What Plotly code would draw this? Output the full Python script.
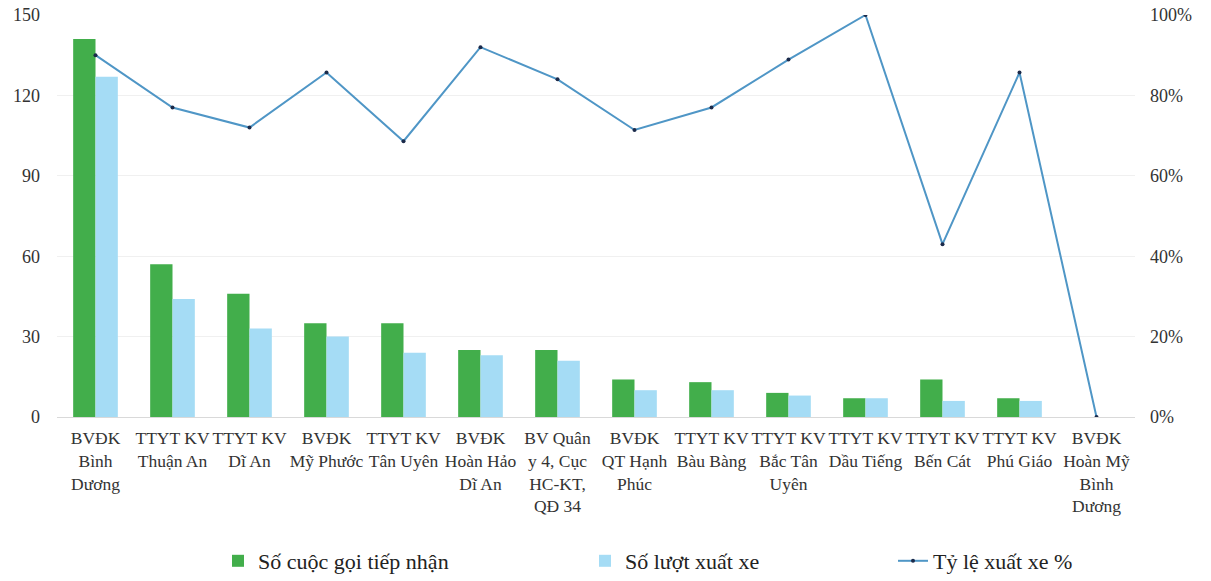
import plotly.graph_objects as go

categories = [
    "BVĐK<br>Bình<br>Dương",
    "TTYT KV<br>Thuận An",
    "TTYT KV<br>Dĩ An",
    "BVĐK<br>Mỹ Phước",
    "TTYT KV<br>Tân Uyên",
    "BVĐK<br>Hoàn Hảo<br>Dĩ An",
    "BV Quân<br>y 4, Cục<br>HC-KT,<br>QĐ 34",
    "BVĐK<br>QT Hạnh<br>Phúc",
    "TTYT KV<br>Bàu Bàng",
    "TTYT KV<br>Bắc Tân<br>Uyên",
    "TTYT KV<br>Dầu Tiếng",
    "TTYT KV<br>Bến Cát",
    "TTYT KV<br>Phú Giáo",
    "BVĐK<br>Hoàn Mỹ<br>Bình<br>Dương",
]
calls_received = [141, 57, 46, 35, 35, 25, 25, 14, 13, 9, 7, 14, 7, 0]
dispatches = [127, 44, 33, 30, 24, 23, 21, 10, 10, 8, 7, 6, 6, 0]
dispatch_rate = [0.90, 0.77, 0.72, 0.857, 0.686, 0.92, 0.84, 0.714, 0.77, 0.889, 1.0, 0.43, 0.857, 0.0]

FONT = "Liberation Serif"

fig = go.Figure()
fig.add_trace(go.Bar(
    x=categories, y=calls_received, name="Số cuộc gọi tiếp nhận",
    marker=dict(color="#42ae4b", line=dict(width=0)), legend="legend",
    showlegend=True,
))
fig.add_trace(go.Bar(
    x=categories, y=dispatches, name="Số lượt xuất xe",
    marker=dict(color="#a5dcf5", line=dict(width=0)), legend="legend2",
    showlegend=True,
))
fig.add_trace(go.Scatter(
    x=categories, y=dispatch_rate, name="Tỷ lệ xuất xe %", yaxis="y2",
    mode="lines+markers",
    line=dict(color="#4f96c6", width=2),
    marker=dict(color="#1b2a4a", size=4),
    legend="legend3", showlegend=True,
))

legend_common = dict(
    orientation="h", yref="container", yanchor="middle", y=1 - 561 / 581,
    xref="container", xanchor="left",
    font=dict(family=FONT, size=22, color="#222"), bgcolor="rgba(0,0,0,0)",
)

fig.update_layout(
    width=1211, height=581,
    margin=dict(l=57, r=76, t=15, b=164, autoexpand=False),
    paper_bgcolor="white", plot_bgcolor="white",
    showlegend=True,
    barmode="group", bargap=0.42, bargroupgap=0,
    font=dict(family=FONT, size=17, color="#333"),
    xaxis=dict(
        range=[-0.5, len(categories) - 0.5],
        tickfont=dict(family=FONT, size=17.5, color="#333"),
        showline=True, linecolor="#d9d9d9", linewidth=1,
        ticks="", showgrid=False, tickangle=0, automargin=False,
        ticklabelstandoff=5,
    ),
    yaxis=dict(
        range=[0, 150], dtick=30, showgrid=True, gridcolor="#f0f0f0",
        zeroline=False, ticks="", ticklabelstandoff=16, automargin=False,
        tickfont=dict(family=FONT, size=18, color="#333"),
    ),
    yaxis2=dict(
        range=[0, 1], dtick=0.2, tickformat=".0%", overlaying="y", side="right",
        showgrid=False, zeroline=False, ticks="", ticklabelstandoff=14,
        automargin=False,
        tickfont=dict(family=FONT, size=18, color="#333"),
    ),
    legend=dict(x=218 / 1211, **legend_common),
    legend2=dict(x=585 / 1211, **legend_common),
    legend3=dict(x=893 / 1211, **legend_common),
)

fig.write_html(
    "out.html",
    config={"displayModeBar": False},
    post_script="document.body.style.margin='0';",
)
